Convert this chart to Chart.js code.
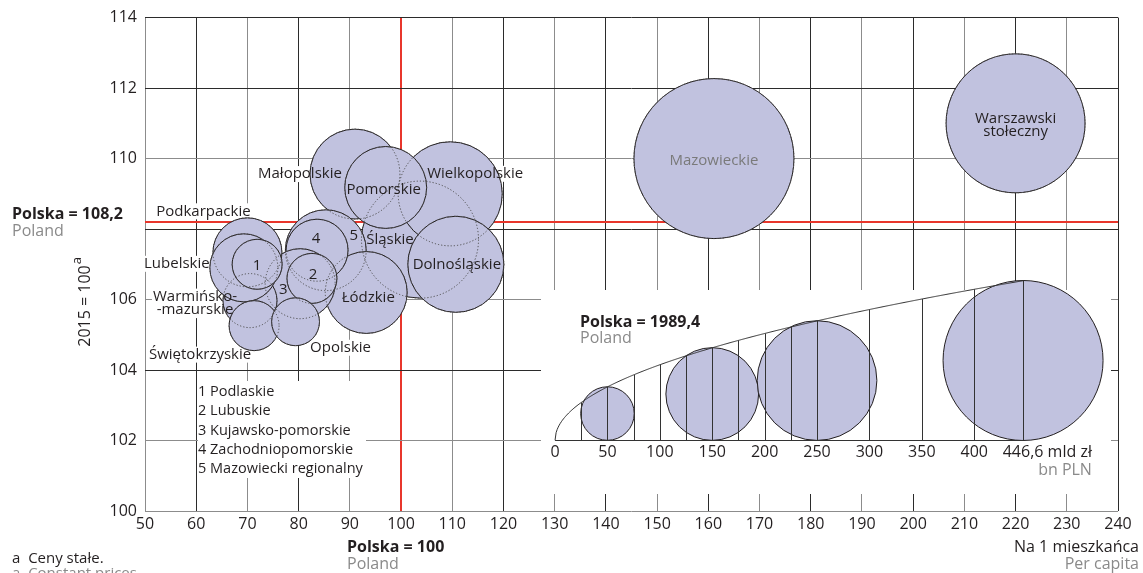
<!DOCTYPE html>
<html>
<head>
<meta charset="utf-8">
<script src="https://cdn.jsdelivr.net/npm/chart.js@4.4.1/dist/chart.umd.min.js"></script>
<style>
  html, body { margin: 0; padding: 0; background: #fff; }
  #wrap { width: 1143px; height: 573px; position: relative; overflow: hidden; }
</style>
</head>
<body>
<div id="wrap"><canvas id="regionChart" width="1143" height="573"></canvas></div>
<script>
// regions in drawing order (back to front)
const regions = ['Śląskie', 'Małopolskie', 'Wielkopolskie', 'Dolnośląskie', 'Pomorskie',
  'Mazowiecki regionalny', 'Łódzkie', 'Zachodniopomorskie', 'Kujawsko-pomorskie', 'Lubuskie',
  'Podkarpackie', 'Warmińsko-mazurskie', 'Lubelskie', 'Świętokrzyskie', 'Opolskie', 'Podlaskie',
  'Mazowieckie', 'Warszawski stołeczny'];
// GDP per capita, Polska = 100
const perCapita = [103.7, 91.0, 109.6, 110.7, 97.0, 85.3, 93.2, 83.6, 80.3, 82.6,
  70.0, 70.5, 69.3, 71.3, 79.4, 71.9, 161.1, 220.0];
// GDP dynamics, 2015 = 100
const dynamics = [107.7, 109.56, 109.0, 107.0, 109.18, 107.4, 106.2, 107.4, 106.45, 106.6,
  107.34, 105.97, 106.9, 105.26, 105.37, 107.0, 110.0, 111.0];
// GDP, bn PLN (bubble area)
const gdp = [239, 141, 189, 161, 117, 114, 117, 67, 85.5, 43.6,
  83, 51, 80.7, 43.6, 40, 43.6, 446.6, 337];

const polandPerCapita = 100;
const polandDynamics = 108.2;
const polandGdp = '1989,4';

const xTicks = [50, 60, 70, 80, 90, 100, 110, 120, 130, 140, 150, 160, 170, 180, 190, 200, 210, 220, 230, 240];
const yTicks = [100, 102, 104, 106, 110, 112, 114];

// size key
const keyValues = [50, 150, 250, 446.6];
const keyGuides = [25, 50, 75, 100, 125, 150, 175, 200, 225, 250, 300, 350, 400, 446.6];
const keyTickLabels = [0, 50, 100, 150, 200, 250, 300, 350, 400];
const keyMax = 446.6;

const numberedNames = ['1 Podlaskie', '2 Lubuskie', '3 Kujawsko-pomorskie', '4 Zachodniopomorskie', '5 Mazowiecki regionalny'];

const regionLabels = [
  { region: 'Śląskie', lines: ['Śląskie'], dx: -30, dy: 0 },
  { region: 'Małopolskie', lines: ['Małopolskie'], dx: -55, dy: 0 },
  { region: 'Wielkopolskie', lines: ['Wielkopolskie'], dx: 25, dy: -20 },
  { region: 'Dolnośląskie', lines: ['Dolnośląskie'], dx: 1, dy: 0 },
  { region: 'Pomorskie', lines: ['Pomorskie'], dx: -2, dy: 2 },
  { region: 'Mazowiecki regionalny', lines: ['5'], dx: 28, dy: -14 },
  { region: 'Łódzkie', lines: ['Łódzkie'], dx: 2, dy: 5 },
  { region: 'Zachodniopomorskie', lines: ['4'], dx: -1, dy: -11 },
  { region: 'Kujawsko-pomorskie', lines: ['3'], dx: -17, dy: 6 },
  { region: 'Lubuskie', lines: ['2'], dx: 1, dy: -4 },
  { region: 'Podkarpackie', lines: ['Podkarpackie'], dx: -44, dy: -41 },
  { region: 'Warmińsko-mazurskie', lines: ['Warmińsko-', '-mazurskie'], dx: -55, dy: -4 },
  { region: 'Lubelskie', lines: ['Lubelskie'], dx: -67, dy: -4 },
  { region: 'Świętokrzyskie', lines: ['Świętokrzyskie'], dx: -54, dy: 29 },
  { region: 'Opolskie', lines: ['Opolskie'], dx: 45, dy: 26 },
  { region: 'Podlaskie', lines: ['1'], dx: 0, dy: 1 },
  { region: 'Mazowieckie', lines: ['Mazowieckie'], dx: 0, dy: 2, grey: true },
  { region: 'Warszawski stołeczny', lines: ['Warszawski', 'stołeczny'], dx: 0, dy: -5 }
];

const FONT = '"Open Sans", "Noto Sans", sans-serif';
const INK = '#231f20';
const GREY = '#8a8a8a';
const RED = '#e8362c';
const FILL = '#c1c2df';
const maxRadius = 80;

function sizeOf(v){
    return maxRadius * Math.sqrt(v / keyMax);
}

const decor = {
    id: 'decor',
    beforeDatasetsDraw(chart){
        const ctx = chart.ctx;
        const x = chart.scales.x, y = chart.scales.y;
        const kx = chart.scales.kx, ky = chart.scales.ky;
        ctx.save();
        // white panels over the grid
        ctx.fillStyle = '#fff';
        ctx.fillRect(198, 381, 168, 97);
        ctx.fillRect(541, 290, 570, 204);
        // Polska = 108,2
        ctx.strokeStyle = RED;
        ctx.lineWidth = 2;
        ctx.beginPath();
        ctx.moveTo(chart.chartArea.left, Math.round(y.getPixelForValue(polandDynamics)));
        ctx.lineTo(chart.chartArea.right, Math.round(y.getPixelForValue(polandDynamics)));
        ctx.stroke();
        // label backgrounds
        ctx.font = '15px ' + FONT;
        let meta = chart.getDatasetMeta(0);
        regionLabels.forEach(function(lb){
            let el = meta.data[regions.indexOf(lb.region)];
            lb.lines.forEach(function(t, i){
                let w = ctx.measureText(t).width;
                let cx = el.x + lb.dx, cy = el.y + lb.dy + i * 13.5;
                ctx.fillRect(cx - w / 2 - 1, cy - 8, w + 2, 16);
            });
        });
        ctx.restore();
    },
    afterDatasetsDraw(chart){
        const ctx = chart.ctx;
        const x = chart.scales.x, y = chart.scales.y;
        const kx = chart.scales.kx, ky = chart.scales.ky;
        let meta = chart.getDatasetMeta(0);
        ctx.save();
        // hidden outlines dotted
        ctx.strokeStyle = '#4d4d4d';
        ctx.lineWidth = 1;
        ctx.setLineDash([1.2, 2]);
        meta.data.forEach(function(el){
            ctx.beginPath();
            ctx.arc(el.x, el.y, el.options.radius, 0, Math.PI * 2);
            ctx.stroke();
        });
        ctx.setLineDash([]);

        // size key guides
        ctx.strokeStyle = '#333';
        ctx.lineWidth = 1;
        let base = Math.round(ky.getPixelForValue(0)) + 0.5;
        keyGuides.forEach(function(v){
            let px = Math.round(kx.getPixelForValue(v)) + 0.5;
            ctx.beginPath();
            ctx.moveTo(px, base);
            ctx.lineTo(px, ky.getPixelForValue(2 * sizeOf(v)));
            ctx.stroke();
        });
        ctx.beginPath();
        for(let v = 0; v <= keyMax; v += 1){
            let px = kx.getPixelForValue(v), py = ky.getPixelForValue(2 * sizeOf(v));
            if(v === 0) ctx.moveTo(px, py); else ctx.lineTo(px, py);
        }
        ctx.lineTo(kx.getPixelForValue(keyMax), ky.getPixelForValue(2 * sizeOf(keyMax)));
        ctx.stroke();
        ctx.beginPath();
        ctx.moveTo(kx.getPixelForValue(0), base);
        ctx.lineTo(kx.getPixelForValue(keyMax), base);
        ctx.stroke();

        ctx.textBaseline = 'middle';
        ctx.font = '16px ' + FONT;
        ctx.fillStyle = INK;
        ctx.textAlign = 'center';
        keyTickLabels.forEach(function(v){
            ctx.fillText(String(v), kx.getPixelForValue(v), base + 12);
        });
        ctx.textAlign = 'left';
        let maxLbl = '446,6';
        let wMax = ctx.measureText(maxLbl).width;
        let startMax = kx.getPixelForValue(keyMax) - wMax / 2;
        ctx.fillText(maxLbl + ' mld zł', startMax, base + 12);
        let endMax = startMax + ctx.measureText(maxLbl + ' mld zł').width;
        ctx.fillStyle = GREY;
        ctx.textAlign = 'right';
        ctx.fillText('bn PLN', endMax, base + 30);

        ctx.textAlign = 'left';
        ctx.fillStyle = INK;
        ctx.font = 'bold 16px ' + FONT;
        ctx.fillText('Polska = ' + polandGdp, 580, 322);
        ctx.fillStyle = GREY;
        ctx.font = '16px ' + FONT;
        ctx.fillText('Poland', 580, 338);

        // region labels
        ctx.font = '15px ' + FONT;
        ctx.textAlign = 'center';
        regionLabels.forEach(function(lb){
            let el = meta.data[regions.indexOf(lb.region)];
            ctx.fillStyle = lb.grey ? '#7a7a7a' : INK;
            lb.lines.forEach(function(t, i){
                ctx.fillText(t, el.x + lb.dx, el.y + lb.dy + i * 13.5);
            });
        });

        // numbered list
        ctx.textAlign = 'left';
        ctx.fillStyle = INK;
        ctx.font = '14.5px ' + FONT;
        numberedNames.forEach(function(t, i){
            ctx.fillText(t, 198, 392 + i * 19.3);
        });

        // Polska reference labels
        ctx.font = 'bold 16px ' + FONT;
        ctx.fillStyle = INK;
        ctx.fillText('Polska = 108,2', 12, 214);
        ctx.fillText('Polska = 100', 347, 547);
        ctx.font = '16px ' + FONT;
        ctx.fillStyle = GREY;
        ctx.fillText('Poland', 12, 231);
        ctx.fillText('Poland', 347, 564);

        ctx.textAlign = 'right';
        ctx.fillStyle = INK;
        ctx.fillText('Na 1 mieszkańca', 1139, 547);
        ctx.fillStyle = GREY;
        ctx.fillText('Per capita', 1139, 564);

        // footnote
        ctx.textAlign = 'left';
        ctx.font = '15px ' + FONT;
        ctx.fillStyle = INK;
        ctx.fillText('a  Ceny stałe.', 12, 559);
        ctx.fillStyle = GREY;
        ctx.fillText('a  Constant prices', 12, 574);

        // y axis title
        ctx.save();
        ctx.translate(90, 306);
        ctx.rotate(-Math.PI / 2);
        ctx.fillStyle = INK;
        ctx.font = '16px ' + FONT;
        ctx.textAlign = 'center';
        ctx.textBaseline = 'alphabetic';
        ctx.fillText('2015 = 100', 0, 0);
        let half = ctx.measureText('2015 = 100').width / 2;
        ctx.textAlign = 'left';
        ctx.font = '13px ' + FONT;
        ctx.fillText('a', half + 1, -9);
        ctx.restore();

        ctx.restore();
    }
};

let ctx = document.getElementById('regionChart').getContext('2d');
let regionChart = new Chart(ctx, {
    type: 'bubble',
    data: {
        datasets: [{
            label: 'regions',
            data: regions.map(function(n, i){
                return { x: perCapita[i], y: dynamics[i], r: sizeOf(gdp[i]) };
            }),
            backgroundColor: FILL,
            borderColor: INK,
            borderWidth: 1,
            order: 1
        }, {
            label: 'key',
            xAxisID: 'kx',
            yAxisID: 'ky',
            data: keyValues.map(function(v){
                return { x: v, y: sizeOf(v), r: sizeOf(v) };
            }),
            backgroundColor: FILL,
            borderColor: INK,
            borderWidth: 1,
            order: 0
        }]
    },
    options: {
        responsive: false,
        devicePixelRatio: 1,
        animation: false,
        events: [],
        layout: { autoPadding: false, padding: { top: 16, right: 25, left: 0, bottom: 0 } },
        plugins: {
            legend: { display: false },
            tooltip: { enabled: false },
            title: { display: false }
        },
        scales: {
            x: {
                type: 'linear',
                min: 50,
                max: 240,
                afterBuildTicks(scale){
                    scale.ticks = xTicks.map(function(v){ return { value: v }; });
                },
                ticks: {
                    color: INK,
                    padding: 4,
                    maxRotation: 0,
                    autoSkip: false,
                    font: { family: FONT, size: 16 }
                },
                grid: {
                    drawTicks: false,
                    color: function(c){
                        if(c.tick.value === polandPerCapita) return RED;
                        return c.tick.value % 20 === 0 ? '#2b2b2b' : '#8c8c8c';
                    },
                    lineWidth: function(c){
                        return c.tick.value === polandPerCapita ? 2 : 1;
                    }
                },
                border: { display: false },
                afterFit(scale){
                    scale.height = 62;
                }
            },
            y: {
                type: 'linear',
                min: 100,
                max: 114,
                afterBuildTicks(scale){
                    scale.ticks = [100, 102, 104, 106, 108, 110, 112, 114].map(function(v){ return { value: v }; });
                },
                ticks: {
                    color: INK,
                    padding: 8,
                    autoSkip: false,
                    font: { family: FONT, size: 16 },
                    callback: function(v){
                        return yTicks.indexOf(v) >= 0 ? String(v) : '';
                    }
                },
                grid: {
                    drawTicks: false,
                    color: function(c){
                        let v = c.tick.value;
                        if(v === 114) return '#2b2b2b';
                        if(v === 100) return '#8c8c8c';
                        return v % 4 === 0 ? '#2b2b2b' : '#8c8c8c';
                    }
                },
                border: { display: false },
                afterFit(scale){
                    scale.width = 145;
                }
            },
            kx: {
                type: 'linear',
                axis: 'x',
                position: 'bottom',
                display: false,
                min: -391.3,
                max: 537.2
            },
            ky: {
                type: 'linear',
                axis: 'y',
                position: 'left',
                display: false,
                min: -71,
                max: 424
            }
        }
    },
    plugins: [decor]
});
</script>
</body>
</html>
